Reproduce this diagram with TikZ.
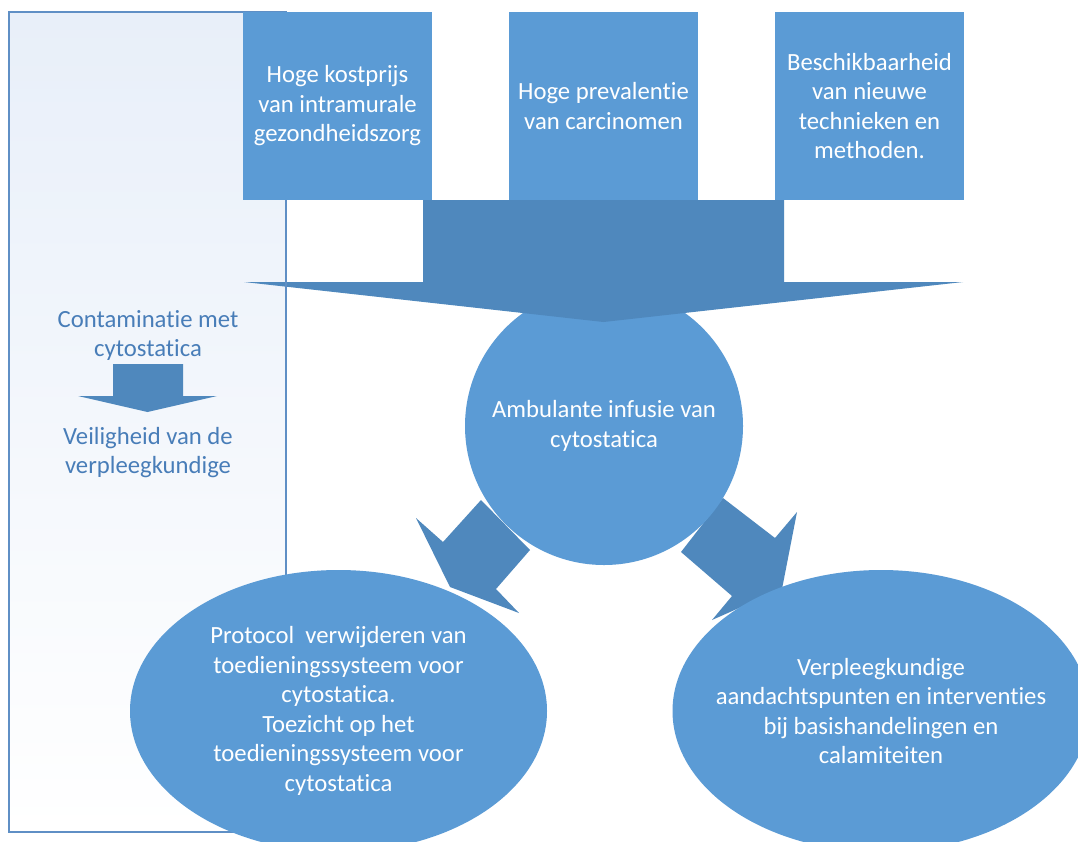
\documentclass[tikz,border=0pt]{standalone}
\usepackage{fontspec}
\setmainfont{Carlito}[Ligatures={NoCommon,NoContextual}]
\usetikzlibrary{shapes.geometric}
\definecolor{boxblue}{RGB}{91,155,213}
\definecolor{arrowblue}{RGB}{79,136,189}
\definecolor{panelline}{RGB}{95,143,197}
\definecolor{paneltext}{RGB}{72,125,184}
\definecolor{paneltop}{RGB}{232,239,249}
\begin{document}
\begin{tikzpicture}[x=1pt,y=-1pt,
  txt/.style={font=\fontsize{24.7}{29.5}\selectfont, align=center},
  topbox/.style={txt, fill=boxblue, text=white, minimum width=189pt, minimum height=188pt, inner sep=0pt},
  hub/.style={txt, circle, fill=boxblue, text=white, minimum size=278pt, inner sep=0pt},
  outcome/.style={txt, ellipse, fill=boxblue, text=white, minimum width=417pt, minimum height=282pt, inner xsep=-60pt, inner ysep=0pt},
  blockarrow/.style={fill=arrowblue},
  note/.style={txt, text=paneltext}]
\clip (0,0) rectangle (1078,841);
\fill[white] (0,0) rectangle (1078,841);

% side panel background
\shade[top color=paneltop, bottom color=white] (9,12) rectangle (286,832);

% side panel: cause and effect
\node[note] (contam) at (148,335.5) {Contaminatie met\\cytostatica};
\node[note] (safety) at (148,452.5) {Veiligheid van de\\verpleegkundige};
\fill[blockarrow] (113,364) -- (183,364) -- (183,396) -- (217,396)
  -- (147.5,412) -- (78,396) -- (113,396) -- cycle;

% diagonal block arrows towards the two outcomes
\fill[blockarrow] (481,500) -- (530,550) -- (496,589) -- (519,613)
  -- (450,587) -- (416,518) -- (443,542) -- cycle;
\fill[blockarrow] (723,498) -- (775,538) -- (797,512) -- (782,589)
  -- (712,620) -- (732,596) -- (681,552) -- cycle;

% central topic
\node[hub] (hub) at (604,426) {Ambulante infusie van\\cytostatica};

% large block arrow from the three drivers
\fill[blockarrow] (423,200) -- (784,200) -- (784,282) -- (963,282)
  -- (603.5,322) -- (244,282) -- (423,282) -- cycle;

% side panel frame
\draw[panelline, line width=1.3pt] (9,12) rectangle (286,832);

% outcomes
\node[outcome] (protocol) at (338.5,711)
  {Protocol\ \ verwijderen van\\toedieningssysteem voor\\cytostatica.\\Toezicht op het\\toedieningssysteem voor\\cytostatica};
\node[outcome] (nursing) at (881,711)
  {Verpleegkundige\\aandachtspunten en interventies\\bij basishandelingen en\\calamiteiten};

% drivers
\node[topbox] (cost) at (337.5,106) {Hoge kostprijs\\van intramurale\\gezondheidszorg};
\node[topbox] (prev) at (603.5,106) {Hoge prevalentie\\van carcinomen};
\node[topbox] (tech) at (869.5,106) {Beschikbaarheid\\van nieuwe\\technieken en\\methoden.};
\end{tikzpicture}
\end{document}
